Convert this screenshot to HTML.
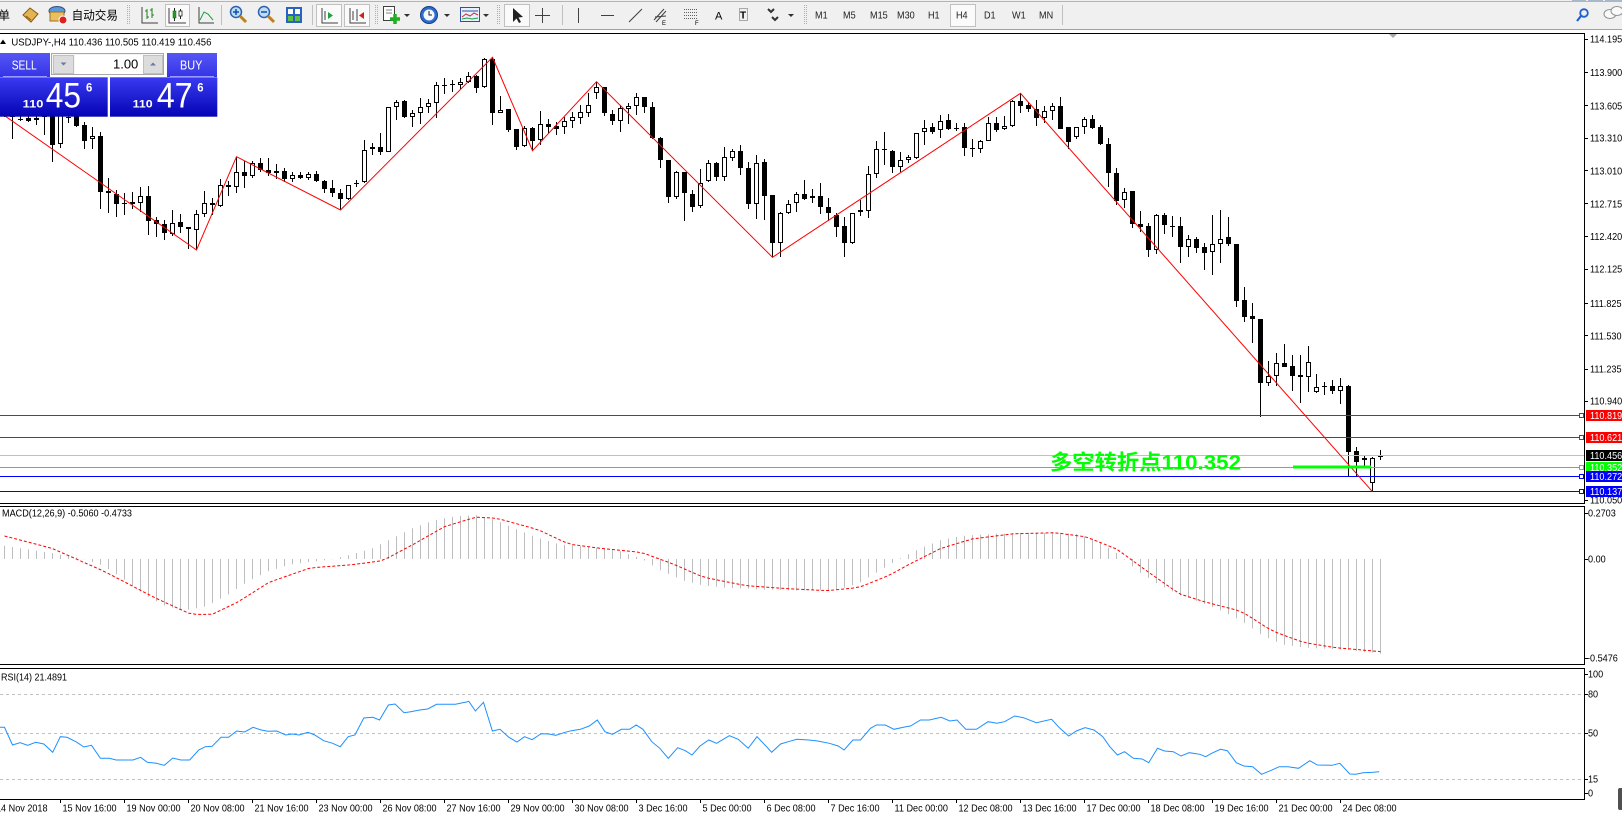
<!DOCTYPE html>
<html><head><meta charset="utf-8">
<style>
html,body{margin:0;padding:0;background:#fff;overflow:hidden;width:1622px;height:813px}
svg{display:block}
text{font-family:"Liberation Sans","Noto Sans CJK SC",sans-serif;fill:#000}
.ax{font-size:10px}
.tf{font-size:10px;fill:#202020}
</style></head><body>
<svg id="s" width="1622" height="813" viewBox="0 0 1622 813" xmlns="http://www.w3.org/2000/svg">
<defs>
<linearGradient id="pg" x1="0" y1="0" x2="0" y2="1"><stop offset="0" stop-color="#3a3af2"/><stop offset="1" stop-color="#0404b4"/></linearGradient>
<linearGradient id="bg" x1="0" y1="0" x2="0" y2="1"><stop offset="0" stop-color="#5656f6"/><stop offset="1" stop-color="#3434e6"/></linearGradient>
</defs>
<rect width="1622" height="813" fill="#fff"/>
<!-- toolbar -->
<rect x="0" y="0" width="1622" height="29" fill="#f0f0f0"/>
<line x1="0" y1="1.5" x2="1622" y2="1.5" stroke="#b4b4b4"/>
<line x1="0" y1="29.5" x2="1622" y2="29.5" stroke="#a0a0a0"/>
<rect x="1572" y="0" width="14" height="2" fill="#a8b8c8"/><rect x="1588" y="0" width="15" height="2" fill="#a8b8c8"/><rect x="1605" y="0" width="17" height="2" fill="#a8b8c8"/>
<text x="-2" y="19.6" font-size="12" font-family="'Liberation Sans','Noto Sans CJK SC',sans-serif">单</text>
<polygon points="23,15 30,8 38,14 31,22" fill="#e2b452" stroke="#8a5a10"/>
<line x1="26" y1="16" x2="31" y2="20" stroke="#8a5a10"/>
<ellipse cx="57" cy="11" rx="8" ry="4.5" fill="#5a9ad8" stroke="#305080"/>
<rect x="50" y="12" width="14" height="9" fill="#e8c060" stroke="#a07020"/>
<circle cx="63" cy="20" r="4" fill="#e02020" stroke="#fff"/>
<text x="71.6" y="19.6" font-size="12" textLength="46.4" lengthAdjust="spacingAndGlyphs">自动交易</text>
<g stroke="#b0b0b0"><line x1="127.5" y1="5" x2="127.5" y2="25" stroke-dasharray="1,1"/><line x1="129.5" y1="5" x2="129.5" y2="25" stroke-dasharray="1,1"/></g>
<path d="M142 7V23H158" stroke="#404040" fill="none"/>
<path d="M147 9V19M145 11h2M147 17h2M152 8V18M150 10h2M152 15h2" stroke="#208020" fill="none"/>
<rect x="165.5" y="4.5" width="24" height="22" fill="#fafafa" stroke="#c0c0c0"/>
<path d="M169 8V23H186" stroke="#404040" fill="none"/>
<path d="M174.5 8V21M180.5 9V19" stroke="#202020"/>
<rect x="173" y="11" width="3" height="7" fill="#20a020" stroke="#106010" stroke-width=".5"/>
<rect x="179" y="11" width="3" height="5" fill="#fff" stroke="#202020" stroke-width=".8"/>
<path d="M199 7V23H214" stroke="#404040" fill="none"/>
<polyline points="200,20 204,12 208,14 213,20" stroke="#20a040" fill="none"/>
<line x1="221.5" y1="5" x2="221.5" y2="25" stroke="#c0c0c0"/>
<circle cx="236" cy="12" r="5.5" fill="#bcdcf8" stroke="#3060b0" stroke-width="1.5"/>
<path d="M233 12h6M236 9v6" stroke="#1050a0" stroke-width="1.5"/>
<line x1="240" y1="16" x2="246" y2="22" stroke="#c08020" stroke-width="3"/>
<circle cx="264" cy="12" r="5.5" fill="#bcdcf8" stroke="#3060b0" stroke-width="1.5"/>
<path d="M261 12h6" stroke="#1050a0" stroke-width="1.5"/>
<line x1="268" y1="16" x2="274" y2="22" stroke="#c08020" stroke-width="3"/>
<rect x="286" y="7" width="16" height="16" fill="#2a62c4"/>
<rect x="288" y="9" width="5" height="5" fill="#fff"/><rect x="295" y="9" width="5" height="5" fill="#fff"/>
<rect x="288" y="16" width="5" height="5" fill="#60c040"/><rect x="295" y="16" width="5" height="5" fill="#60c040"/>
<line x1="312.5" y1="5" x2="312.5" y2="25" stroke="#c0c0c0"/>
<rect x="316.5" y="4.5" width="25" height="22" fill="#fafafa" stroke="#c0c0c0"/>
<path d="M322 8V23H338M325 11V20" stroke="#404040" fill="none"/>
<polygon points="328,12 333,15.5 328,19" fill="#20a040"/>
<rect x="344.5" y="4.5" width="25" height="22" fill="#fafafa" stroke="#c0c0c0"/>
<path d="M350 8V23H366M353 11V20" stroke="#404040" fill="none"/>
<path d="M357 9V21" stroke="#404040"/><polygon points="364,12 359,15.5 364,19" fill="#d02020"/>
<g stroke="#b0b0b0"><line x1="375.5" y1="5" x2="375.5" y2="25" stroke-dasharray="1,1"/><line x1="377.5" y1="5" x2="377.5" y2="25" stroke-dasharray="1,1"/></g>
<rect x="383.5" y="6.5" width="11" height="14" fill="#fff" stroke="#404040"/>
<path d="M386 10h6M386 13h6" stroke="#808080"/>
<path d="M395 14V24M390 19H400" stroke="#20b020" stroke-width="3.5"/>
<polygon points="404,14 410,14 407,17" fill="#303030"/>
<circle cx="429" cy="15" r="8.5" fill="#2c6cd0" stroke="#1a3c80"/>
<circle cx="429" cy="15" r="5.5" fill="#f4f8ff"/>
<path d="M429 11V15H432" stroke="#202020" fill="none"/>
<polygon points="444,14 450,14 447,17" fill="#303030"/>
<rect x="460.5" y="7.5" width="19" height="14" fill="#e8f0ff" stroke="#3050a0"/>
<path d="M462 11h16" stroke="#3050a0"/><polyline points="462,17 466,14 470,16 474,13 478,15" stroke="#d03030" fill="none"/><polyline points="462,19 467,18 472,19 478,18" stroke="#20a040" fill="none"/>
<polygon points="483,14 489,14 486,17" fill="#303030"/>
<g stroke="#b0b0b0"><line x1="497.5" y1="5" x2="497.5" y2="25" stroke-dasharray="1,1"/><line x1="499.5" y1="5" x2="499.5" y2="25" stroke-dasharray="1,1"/></g>
<rect x="504.5" y="4.5" width="25" height="22" fill="#fafafa" stroke="#c0c0c0"/>
<polygon points="513,8 513,22 516.5,18.5 519,23 521,22 518.5,17.5 523,17" fill="#202020"/>
<path d="M542.5 8V23M535 15.5H550" stroke="#404040"/>
<line x1="562.5" y1="5" x2="562.5" y2="25" stroke="#c0c0c0"/>
<path d="M578.5 8V23" stroke="#404040"/>
<path d="M601 15.5H614" stroke="#404040"/>
<path d="M629 22L642 9" stroke="#404040"/>
<path d="M654 20L664 9M656 22L666 11M655 17L666 16" stroke="#404040" fill="none"/>
<text x="662" y="25" font-size="6">E</text>
<path d="M684 9.5h13M684 12.5h13M684 15.5h13M684 18.5h13" stroke="#606060" stroke-dasharray="1,1"/>
<text x="695" y="25" font-size="6">F</text>
<text x="715" y="19.5" font-size="11" fill="#404040">A</text>
<rect x="739.5" y="8.5" width="8" height="12" fill="none" stroke="#606060" stroke-dasharray="1,1"/>
<text x="740" y="18.5" font-size="10" font-weight="bold" fill="#404040">T</text>
<path d="M768 9l3 3 3-3M772 17l3 3 3-3" stroke="#303030" stroke-width="2" fill="none"/>
<polygon points="788,14 794,14 791,17" fill="#303030"/>
<g stroke="#b0b0b0"><line x1="804.5" y1="5" x2="804.5" y2="25" stroke-dasharray="1,1"/><line x1="806.5" y1="5" x2="806.5" y2="25" stroke-dasharray="1,1"/></g>
<rect x="950.5" y="4.5" width="25" height="22" fill="#fafafa" stroke="#c0c0c0"/>
<text class="tf" transform="translate(815,18.6) scale(.91,1)">M1</text>
<text class="tf" transform="translate(843,18.6) scale(.91,1)">M5</text>
<text class="tf" transform="translate(870,18.6) scale(.91,1)">M15</text>
<text class="tf" transform="translate(897,18.6) scale(.91,1)">M30</text>
<text class="tf" transform="translate(928,18.6) scale(.91,1)">H1</text>
<text class="tf" transform="translate(956,18.6) scale(.91,1)">H4</text>
<text class="tf" transform="translate(984,18.6) scale(.91,1)">D1</text>
<text class="tf" transform="translate(1012,18.6) scale(.91,1)">W1</text>
<text class="tf" transform="translate(1039,18.6) scale(.91,1)">MN</text>
<line x1="1062.5" y1="5" x2="1062.5" y2="25" stroke="#c0c0c0"/>
<circle cx="1584" cy="13" r="3.8" fill="none" stroke="#2060d0" stroke-width="1.8"/>
<line x1="1581" y1="16" x2="1577" y2="21" stroke="#2060d0" stroke-width="2.2"/>
<ellipse cx="1610" cy="14" rx="6" ry="4.5" fill="#fafafa" stroke="#909090"/>
<ellipse cx="1617" cy="11" rx="6" ry="4.5" fill="#fafafa" stroke="#909090"/>

<!-- chart frames -->
<g stroke="#000" fill="none">
<path d="M-1 33.5H1584.5V503.5H-1"/>
<path d="M-1 506.5H1584.5V664.5H-1"/>
<path d="M-1 668.5H1584.5V799.5H-1"/>
</g>
<polygon points="1389,34 1397,34 1393,38" fill="#a8a8a8"/>

<!-- RSI levels -->
<g stroke="#c0c0c0" stroke-dasharray="3,3">
<line x1="0" y1="694.5" x2="1584" y2="694.5"/>
<line x1="0" y1="733.5" x2="1584" y2="733.5"/>
<line x1="0" y1="779.5" x2="1584" y2="779.5"/>
</g>

<g id="macd"></g>
<g id="rsi"></g>
<g id="candles"></g>

<!-- horizontal levels -->
<g fill="none">
<line x1="0" y1="455.5" x2="1584" y2="455.5" stroke="#c0c0c0"/>
<line x1="0" y1="415.5" x2="1580" y2="415.5" stroke="#ff0000"/>
<line x1="0" y1="437.5" x2="1580" y2="437.5" stroke="#ff0000"/>
<line x1="0" y1="467.5" x2="1580" y2="467.5" stroke="#00ff00"/>
<line x1="0" y1="476.5" x2="1580" y2="476.5" stroke="#0000ff"/>
<line x1="0" y1="491.5" x2="1580" y2="491.5" stroke="#0000ff"/>
<rect x="1579.5" y="413.5" width="4" height="4" stroke="#ff0000" fill="#fff"/>
<rect x="1579.5" y="435.5" width="4" height="4" stroke="#ff0000" fill="#fff"/>
<rect x="1579.5" y="465.5" width="4" height="4" stroke="#00ff00" fill="#fff"/>
<rect x="1579.5" y="474.5" width="4" height="4" stroke="#0000ff" fill="#fff"/>
<rect x="1579.5" y="489.5" width="4" height="4" stroke="#0000ff" fill="#fff"/>
</g>
<polyline fill="none" stroke="#ff0000" points="-10,105.5 196.5,250 236.5,156.7 340.5,210 492.5,57.3 532.5,150.7 596.5,81.7 772.5,257.3 1020.5,93.3 1372.5,491.7"/>
<rect x="1293" y="465.5" width="78" height="3" fill="#00ff00"/>
<text x="1050" y="469.5" font-size="21" font-weight="bold" textLength="191" lengthAdjust="spacingAndGlyphs" style="fill:#00ff00">多空转折点110.352</text>

<!-- header text -->
<polygon points="0,44 3,39.5 6,44" fill="#000"/>
<text x="11.4" y="45.3" font-size="10" textLength="200" lengthAdjust="spacingAndGlyphs">USDJPY-,H4  110.436 110.505 110.419 110.456</text>

<!-- trade panel -->
<rect x="0" y="53" width="50" height="24" fill="url(#bg)"/>
<line x1="3" y1="76.5" x2="47" y2="76.5" stroke="#9a9aff"/>
<text x="11.7" y="69.3" font-size="13" textLength="25" lengthAdjust="spacingAndGlyphs" style="fill:#fff">SELL</text>
<rect x="167" y="53" width="50" height="24" fill="url(#bg)"/>
<line x1="170" y1="76.5" x2="214" y2="76.5" stroke="#9a9aff"/>
<text x="180" y="69.3" font-size="13" textLength="22.3" lengthAdjust="spacingAndGlyphs" style="fill:#fff">BUY</text>
<rect x="51.5" y="53.5" width="112" height="21" fill="#f4f4f4" stroke="#a8a8a8"/>
<rect x="53.5" y="55.5" width="20" height="18" fill="#dcdcdc" stroke="#c0c0c0"/>
<rect x="75" y="55" width="68" height="19" fill="#fff"/>
<rect x="143.5" y="55.5" width="19" height="18" fill="#dcdcdc" stroke="#c0c0c0"/>
<polygon points="60.5,62.5 66.5,62.5 63.5,65.5" fill="#6878a8"/>
<polygon points="150,65.5 156,65.5 153,62.5" fill="#6878a8"/>
<text x="138.3" y="68.6" font-size="13" text-anchor="end">1.00</text>
<rect x="0" y="77.3" width="107.7" height="39.4" fill="url(#pg)"/>
<rect x="110" y="77.3" width="107.3" height="39.4" fill="url(#pg)"/>
<text x="22.7" y="107.3" font-size="11" font-weight="bold" textLength="20.7" lengthAdjust="spacingAndGlyphs" style="fill:#fff">110</text>
<text x="45.7" y="107.3" font-size="35" textLength="35.3" lengthAdjust="spacingAndGlyphs" style="fill:#fff">45</text>
<text x="86" y="91.7" font-size="12" font-weight="bold" textLength="6.3" lengthAdjust="spacingAndGlyphs" style="fill:#fff">6</text>
<text x="132.7" y="107.3" font-size="11" font-weight="bold" textLength="20" lengthAdjust="spacingAndGlyphs" style="fill:#fff">110</text>
<text x="156.7" y="107.3" font-size="35" textLength="36" lengthAdjust="spacingAndGlyphs" style="fill:#fff">47</text>
<text x="197.3" y="91.7" font-size="12" font-weight="bold" textLength="6.3" lengthAdjust="spacingAndGlyphs" style="fill:#fff">6</text>

<!-- right axis -->
<g stroke="#000">
<path d="M1584 39.5h4M1584 72.5h4M1584 105.5h4M1584 138.5h4M1584 170.5h4M1584 203.5h4M1584 236.5h4M1584 269.5h4M1584 303.5h4M1584 335.5h4M1584 369.5h4M1584 401.5h4M1584 500.5h4"/>
<path d="M1584 513.5h4M1584 559.5h4M1584 658.5h4M1584 674.5h4M1584 694.5h4M1584 733.5h4M1584 779.5h4M1584 793.5h4"/>
</g>
<text class="ax" transform="translate(1590,42.6) scale(.91,1)">114.195</text>
<text class="ax" transform="translate(1590,75.9) scale(.91,1)">113.900</text>
<text class="ax" transform="translate(1590,109.3) scale(.91,1)">113.605</text>
<text class="ax" transform="translate(1590,141.6) scale(.91,1)">113.310</text>
<text class="ax" transform="translate(1590,174.3) scale(.91,1)">113.010</text>
<text class="ax" transform="translate(1590,207.3) scale(.91,1)">112.715</text>
<text class="ax" transform="translate(1590,239.9) scale(.91,1)">112.420</text>
<text class="ax" transform="translate(1590,272.6) scale(.91,1)">112.125</text>
<text class="ax" transform="translate(1590,306.9) scale(.91,1)">111.825</text>
<text class="ax" transform="translate(1590,339.3) scale(.91,1)">111.530</text>
<text class="ax" transform="translate(1590,372.6) scale(.91,1)">111.235</text>
<text class="ax" transform="translate(1590,404.6) scale(.91,1)">110.940</text>
<text class="ax" transform="translate(1590,503.6) scale(.91,1)">110.050</text>
<rect x="1586" y="410" width="36" height="11" fill="#ff0000"/>
<text class="ax" transform="translate(1590,419.1) scale(.91,1)" style="fill:#fff">110.819</text>
<rect x="1586" y="432" width="36" height="11" fill="#ff0000"/>
<text class="ax" transform="translate(1590,441.1) scale(.91,1)" style="fill:#fff">110.621</text>
<rect x="1586" y="450" width="36" height="11" fill="#000"/>
<text class="ax" transform="translate(1590,459.1) scale(.91,1)" style="fill:#fff">110.456</text>
<rect x="1586" y="462" width="36" height="11" fill="#00ff00"/>
<text class="ax" transform="translate(1590,471.1) scale(.91,1)" style="fill:#fff">110.352</text>
<rect x="1586" y="471" width="36" height="11" fill="#0000ff"/>
<text class="ax" transform="translate(1590,480.1) scale(.91,1)" style="fill:#fff">110.272</text>
<rect x="1586" y="486" width="36" height="11" fill="#0000ff"/>
<text class="ax" transform="translate(1590,495.1) scale(.91,1)" style="fill:#fff">110.137</text>

<text class="ax" transform="translate(1588,516.6) scale(.91,1)">0.2703</text>
<text class="ax" transform="translate(1588,562.6) scale(.91,1)">0.00</text>
<text class="ax" transform="translate(1587,661.6) scale(.91,1)">-0.5476</text>
<text class="ax" transform="translate(1588,677.6) scale(.91,1)">100</text>
<text class="ax" transform="translate(1588,697.6) scale(.91,1)">80</text>
<text class="ax" transform="translate(1588,736.6) scale(.91,1)">50</text>
<text class="ax" transform="translate(1588,782.6) scale(.91,1)">15</text>
<text class="ax" transform="translate(1588,796.6) scale(.91,1)">0</text>
<rect x="1618" y="788" width="6" height="22" rx="2" fill="#505050"/>

<text x="2" y="516.6" font-size="10" textLength="130" lengthAdjust="spacingAndGlyphs">MACD(12,26,9) -0.5060 -0.4733</text>
<text x="1" y="680.3" font-size="10" textLength="66" lengthAdjust="spacingAndGlyphs">RSI(14) 21.4891</text>

<!-- date axis -->
<path stroke="#000" d="M60.5 799v4M124.5 799v4M188.5 799v4M252.5 799v4M316.5 799v4M380.5 799v4M444.5 799v4M508.5 799v4M572.5 799v4M636.5 799v4M700.5 799v4M764.5 799v4M828.5 799v4M892.5 799v4M956.5 799v4M1020.5 799v4M1084.5 799v4M1148.5 799v4M1212.5 799v4M1276.5 799v4M1340.5 799v4"/>
<text class="ax" transform="translate(-4,811.5) scale(.91,1)">14 Nov 2018</text>
<text class="ax" transform="translate(62.5,811.5) scale(.91,1)">15 Nov 16:00</text>
<text class="ax" transform="translate(126.5,811.5) scale(.91,1)">19 Nov 00:00</text>
<text class="ax" transform="translate(190.5,811.5) scale(.91,1)">20 Nov 08:00</text>
<text class="ax" transform="translate(254.5,811.5) scale(.91,1)">21 Nov 16:00</text>
<text class="ax" transform="translate(318.5,811.5) scale(.91,1)">23 Nov 00:00</text>
<text class="ax" transform="translate(382.5,811.5) scale(.91,1)">26 Nov 08:00</text>
<text class="ax" transform="translate(446.5,811.5) scale(.91,1)">27 Nov 16:00</text>
<text class="ax" transform="translate(510.5,811.5) scale(.91,1)">29 Nov 00:00</text>
<text class="ax" transform="translate(574.5,811.5) scale(.91,1)">30 Nov 08:00</text>
<text class="ax" transform="translate(638.5,811.5) scale(.91,1)">3 Dec 16:00</text>
<text class="ax" transform="translate(702.5,811.5) scale(.91,1)">5 Dec 00:00</text>
<text class="ax" transform="translate(766.5,811.5) scale(.91,1)">6 Dec 08:00</text>
<text class="ax" transform="translate(830.5,811.5) scale(.91,1)">7 Dec 16:00</text>
<text class="ax" transform="translate(894.5,811.5) scale(.91,1)">11 Dec 00:00</text>
<text class="ax" transform="translate(958.5,811.5) scale(.91,1)">12 Dec 08:00</text>
<text class="ax" transform="translate(1022.5,811.5) scale(.91,1)">13 Dec 16:00</text>
<text class="ax" transform="translate(1086.5,811.5) scale(.91,1)">17 Dec 00:00</text>
<text class="ax" transform="translate(1150.5,811.5) scale(.91,1)">18 Dec 08:00</text>
<text class="ax" transform="translate(1214.5,811.5) scale(.91,1)">19 Dec 16:00</text>
<text class="ax" transform="translate(1278.5,811.5) scale(.91,1)">21 Dec 00:00</text>
<text class="ax" transform="translate(1342.5,811.5) scale(.91,1)">24 Dec 08:00</text>
</svg>
<script>
(function(){
var Z10="w,170,195,160,200;b,170,200,160,268;d,207,207,195,212;b,204,213,190,215;w,203,210,190,225;b,185,200,180,255;b,150,285,140,335;w,150,283,140,295;d,200,200,190,218;b,195,227,190,230;b,225,272,215,297;w,258,268,232,297;b,258,425,245,478;b,424,428,385,488;b,432,462,420,500;d,460,460,430,495;b,457,462,425,478;w,438,458,410,485;b,438,512,408,555;b,510,522,500,562;b,522,550,510,570;w,518,553,480,558;b,517,530,493,548;b,530,538,530,598;w,493,540,480,600;w,460,493,422,500;b,460,466,445,495;w,405,467,387,470;b,405,412,393,437;w,367,412,322,428;b,367,377,332,415;w,340,377,332,385;b,340,360,325,365;b,360,368,325,378;w,363,370,342,388;b,363,388,355,395;w,375,388,365,395;b,375,383,365,388;w,373,383,365,390;b,373,393,363,395;b,392,418,390,428;b,413,430,390,442;b,430,448,418,480;w,405,448,405,450;d,398,398,390,410;w,300,395,270,400;w,290,298,280,315;b,290,305,250,315;w,172,305,170,305;w,155,170,150,210;b,152,200,150,203;w,190,202,180,230;w,172,190,145,222;w,160,170,148,190;w,105,160,95,203;d,105,105,85,133;b,101,106,90,125;w,95,106,85,118";
var Z11="w,78,95,65,100;b,78,115,75,130;w,28,112,25,115;b,28,190,20,225;w,180,190,138,190;b,178,240,178,245;b,237,290,237,300;w,235,287,228,290;b,234,272,232,302;w,222,270,183,285;b,222,231,208,250;b,229,236,215,255;w,212,232,200,252;w,202,212,185,234;w,187,203,165,222;w,165,190,130,200;w,112,128,95,147;b,110,190,110,197;b,192,212,180,225;w,175,212,165,245;w,168,176,160,222;w,140,168,130,195;b,140,172,140,190;b,172,265,155,268;b,265,330,262,355;b,330,442,330,458;w,367,442,362,448;b,367,430,365,512;b,432,472,420,485;w,398,468,358,475;w,340,393,330,397;b,340,382,335,393;w,322,382,292,393;w,302,325,297,333;b,303,355,285,375;b,353,462,337,477;w,340,463,315,508;b,337,437,327,510;b,435,580,435,620;w,490,580,485,620;w,463,490,450,492;w,433,460,425,485;b,433,446,390,450;w,438,444,418,460;b,438,472,400,492;b,471,488,445,512;b,495,530,490,560;b,528,580,500,622;w,490,580,488,583;w,481,487,450,497;w,372,482,348,503;w,298,373,272,385;d,298,298,245,345;b,303,352,300,368;w,330,352,305,365;w,322,331,315,340;w,250,323,250,327;w,235,247,210,285;b,232,245,218,253";
var Z12="w,122,150,105,175;b,120,147,102,150;d,145,145,128,152;b,142,205,130,228;d,205,205,178,232;w,183,208,180,218;w,130,182,112,182;b,130,150,110,155;w,137,148,108,150;w,63,137,60,142;b,63,77,40,100;b,75,88,65,95;b,88,115,60,137;w,92,115,78,130;w,78,92,70,120;b,78,147,50,147;b,142,185,140,208;w,142,172,140,178;w,118,142,110,163;b,118,143,105,148;b,142,193,135,195;b,192,278,175,322;b,280,362,265,375;w,335,360,325,385;b,333,433,333,445;b,433,440,393,455;b,438,510,430,530;w,405,510,403,523;b,405,436,400,462;d,437,437,408,470;b,438,502,410,550;w,478,502,465,530;b,478,503,470,520;b,502,520,490,570;w,492,517,405,585;w,478,493,390,550;b,471,493,410,497;b,492,662,492,680;b,660,710,622,725;b,708,718,670,788;b,718,910,718,1010;w,888,910,843,918;w,850,888,818,918;b,850,860,793,860;b,858,887,825,932;b,885,892,825,970;w,847,892,797,935;w,922,937,883,940;d,918,918,905,945;b,918,932,900,942;w,918,932,895,972;b,918,1115,915,1192;b,1113,1147,1102,1190;w,1135,1141,1125,1165;w,1135,1210,1132,1235;w,1125,1132,1110,1140";
function parse(s,off){return s.split(";").map(function(e){var a=e.split(",");return [a[0],off+a[1]/3,off+a[2]/3,off+a[3]/3,off+a[4]/3];});}
var c=parse(Z10,50).concat(parse(Z11,50),parse(Z12,80));
var wick="",black="",hollow="",dash="";
c.forEach(function(d,j){
 var x=4+8*j,wx=x+0.5;
 wick+="M"+wx+" "+Math.round(d[3])+"V"+Math.round(d[4]);
 var t=Math.round(d[1]),b=Math.round(d[2]);
 if(d[0]=="b"){if(b-t<1)b=t+1;black+="M"+(x-2)+" "+t+"h5v"+(b-t)+"h-5z";}
 else if(d[0]=="w"&&b-t>=2){hollow+="M"+(x-1.5)+" "+(t+0.5)+"h4v"+(b-t-1)+"h-4z";}
 else{dash+="M"+(x-2)+" "+(t+0.5)+"h5";}
});
document.getElementById("candles").innerHTML=
 '<path d="'+wick+'" stroke="#000" fill="none"/>'+
 '<path d="'+hollow+'" stroke="#000" fill="#fff"/>'+
 '<path d="'+black+'" fill="#000"/>'+
 '<path d="'+dash+'" stroke="#000" fill="none"/>';
function interp(p,x){if(x<=p[0][0])return p[0][1];for(var i=1;i<p.length;i++){if(x<=p[i][0]){var a=p[i-1],b=p[i];return a[1]+(b[1]-a[1])*(x-a[0])/(b[0]-a[0]);}}return p[p.length-1][1];}
var H=[[0,527],[40,533],[80,540],[100,547],[120,560],[140,575],[160,586],[180,590],[200,586],[220,575],[240,562],[260,552],[280,546],[300,543],[320,541],[340,536],[360,530],[380,520],[400,510],[420,503],[440,499],[460,498],[480,503],[500,512],[520,520],[540,526],[560,528],[580,530],[600,533],[620,540],[640,552],[660,561],[680,566],[700,568],[740,570],[780,571],[810,570],[830,564],[850,552],[870,540],[890,530],[910,522],[930,518],[960,516],[1000,515],[1040,516],[1060,522],[1080,535],[1100,552],[1120,565],[1140,575],[1160,582],[1180,590],[1200,600],[1220,614],[1240,623],[1260,626],[1300,628],[1335,632]];
var SG=[[0,517],[50,530],[100,552],[150,578],[185,594],[205,594],[230,582],[260,563],[300,549],[340,546],[370,542],[400,526],[430,509],[460,500],[480,501],[520,512],[550,526],[580,530],[620,534],[650,545],[680,558],[720,566],[760,569],[800,571],[830,568],[860,556],[880,545],[910,530],[940,521],[980,516],[1020,515],[1050,519],[1080,531],[1110,553],[1140,574],[1165,582],[1200,591],[1230,610],[1260,621],[1290,626],[1335,630]];
var K=1.0344,hp="",sp=[];
for(var j=0;j<173;j++){var xr=4.5+8*j,xp=xr/K;var yh=interp(H,xp)*K,ys=interp(SG,xp)*K;hp+="M"+xr+" 559V"+yh.toFixed(1);sp.push(xr+","+ys.toFixed(1));}
document.getElementById("macd").innerHTML='<path d="'+hp+'" stroke="#bdbdbd" fill="none"/><polyline points="'+sp.join(" ")+'" stroke="#ff0000" fill="none" stroke-dasharray="3,2"/>';
var R8=[[0,262],[10,262],[28,315],[45,308],[62,316],[80,307],[98,312],[118,337],[135,290],[150,292],[170,305],[188,321],[205,316],[225,355],[245,355],[260,360],[298,360],[315,352],[330,367],[350,370],[368,376],[387,354],[405,360],[425,360],[445,330],[460,320],[475,319],[495,292],[512,292],[530,273],[548,276],[567,262],[585,270],[600,274],[620,273],[640,285],[655,282],[670,285],[690,277],[705,285],[725,302],[745,310],[762,320],[780,290],[795,285],[815,234],[835,232],[850,240],[870,195],[885,192],[905,218],[920,215],[940,210],[958,207],[978,193],[1000,193],[1020,193],[1045,186],[1050,184],[1065,213],[1083,187],[1103,273],[1120,268],[1140,292],[1158,306],[1175,290],[1192,299],[1212,281],[1230,282],[1245,286],[1263,278],[1280,272],[1300,268],[1320,258],[1338,240],[1355,275],[1372,283],[1392,268],[1410,268],[1425,255],[1440,268],[1460,305],[1478,325],[1497,355],[1518,323],[1535,332],[1550,345]];
var R9=[[0,318],[15,300],[28,310],[50,287],[65,298],[82,325],[97,290],[112,318],[122,337],[137,312],[150,305],[165,298],[185,300],[200,303],[220,310],[235,318],[245,330],[260,300],[273,300],[290,265],[300,255],[315,255],[330,268],[350,260],[358,258],[375,240],[390,240],[410,232],[425,243],[437,240],[452,268],[470,268],[490,245],[505,250],[518,245],[535,228],[550,233],[572,248],[598,238],[612,265],[627,288],[640,273],[655,263],[670,270],[685,290],[697,320],[710,345],[722,335],[737,355],[752,357],[763,368],[778,325],[790,333],[805,335],[818,348],[832,338],[850,343],[860,350],[870,340],[885,328],[897,332],[912,368],[925,378],[940,380],[955,403],[970,392],[985,380],[1000,380],[1018,385],[1037,362],[1050,375],[1075,376],[1088,370],[1105,402],[1115,403],[1128,398],[1145,397],[1155,395]];
var rp=[];
R8.forEach(function(p){rp.push((p[0]*700/1568).toFixed(1)+","+(640+p[1]/3).toFixed(1));});
R9.forEach(function(p){rp.push((700+p[0]*922/1568).toFixed(1)+","+(640+p[1]/3).toFixed(1));});
document.getElementById("rsi").innerHTML='<polyline points="'+rp.join(" ")+'" stroke="#1e90ff" fill="none"/>';
})();
</script>
</body></html>
